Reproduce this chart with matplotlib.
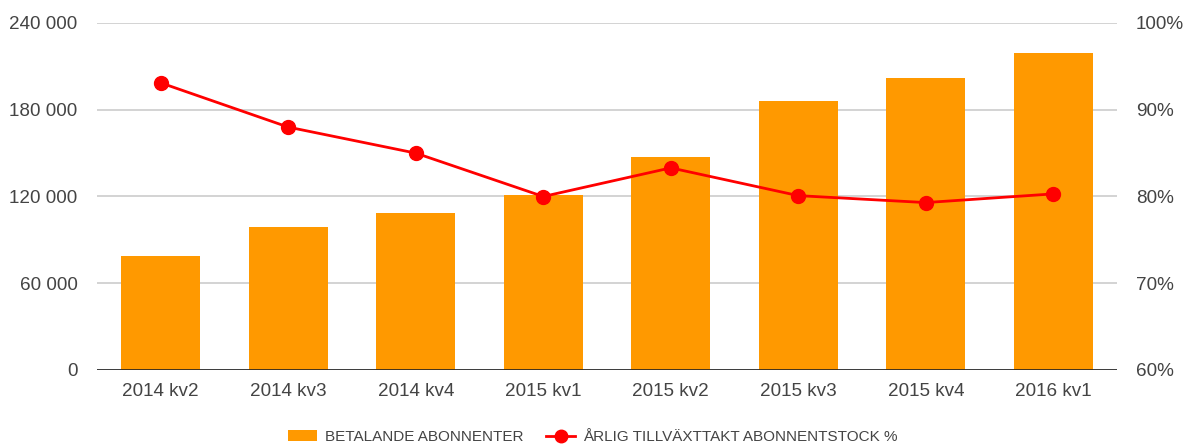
import matplotlib
matplotlib.use("Agg")
import matplotlib.pyplot as plt
from matplotlib.lines import Line2D
from matplotlib.patches import Patch
from matplotlib.ticker import FuncFormatter

plt.rcParams['font.family'] = ['Liberation Sans', 'DejaVu Sans']

# data
quarters = ['2014 kv2', '2014 kv3', '2014 kv4', '2015 kv1',
            '2015 kv2', '2015 kv3', '2015 kv4', '2016 kv1']
subscribers = [78600, 98900, 108600, 120800, 147600, 185900, 202100, 219400]
growth_pct = [93.1, 88.0, 85.0, 80.0, 83.3, 80.1, 79.3, 80.3]

ORANGE = '#ff9900'
RED = '#ff0000'
TEXT = '#444444'
GRID = '#cccccc'

fig = plt.figure(figsize=(11.86, 4.46), dpi=100)
ax = fig.add_axes([97 / 1186, 1 - 370 / 446, (1117 - 97) / 1186, (370 - 23) / 446])
ax2 = ax.twinx()

x = list(range(len(quarters)))
ax.bar(x, subscribers, width=0.62, color=ORANGE, zorder=2)
ax.set_xlim(-0.5, len(quarters) - 0.5)
ax.set_ylim(0, 240000)
ax.set_yticks([0, 60000, 120000, 180000, 240000])
ax.yaxis.set_major_formatter(FuncFormatter(lambda v, p: f'{int(v):,}'.replace(',', ' ')))
ax.grid(axis='y', color=GRID, linewidth=1.2, zorder=0)
ax.axhline(0, color='#222222', linewidth=1.2, zorder=3)

ax2.plot(x, growth_pct, color=RED, linewidth=2, marker='o', markersize=10, zorder=4)
ax2.set_ylim(60, 100)
ax2.set_yticks([60, 70, 80, 90, 100])
ax2.yaxis.set_major_formatter(FuncFormatter(lambda v, p: f'{int(v)}%'))

ax.set_xticks(x)
ax.set_xticklabels(quarters)
for a in (ax, ax2):
    for s in a.spines.values():
        s.set_visible(False)
    a.tick_params(length=0, labelsize=13.6, labelcolor=TEXT)
ax.tick_params(axis='y', pad=14)
ax2.tick_params(axis='y', pad=13.5)
ax.tick_params(axis='x', pad=9)

ax.set_zorder(ax2.get_zorder() - 1)
ax.patch.set_visible(False)
ax2.patch.set_visible(False)

handles = [Patch(facecolor=ORANGE, edgecolor='none'),
           Line2D([0], [0], color=RED, linewidth=2, marker='o', markersize=9)]
labels = ['BETALANDE ABONNENTER', 'ÅRLIG TILLVÄXTTAKT ABONNENTSTOCK %']
fig.legend(handles, labels, loc='center', bbox_to_anchor=(0.5, 1 - 437 / 446),
           ncol=2, frameon=False, fontsize=11, labelcolor=TEXT,
           handlelength=1.9, handletextpad=0.5, columnspacing=1.5)

fig.savefig('out.png', dpi=100)
